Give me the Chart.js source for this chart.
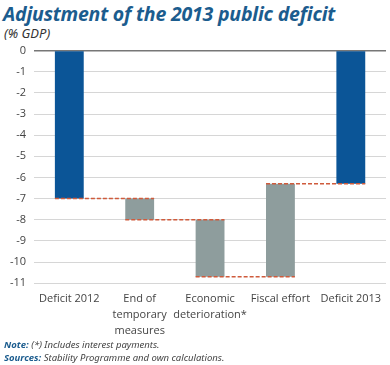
<!DOCTYPE html>
<html>
<head>
<meta charset="utf-8">
<script src="https://cdn.jsdelivr.net/npm/chart.js@4"></script>
<style>
    body { margin: 0; background: #fff; width: 390px; height: 365px; position: relative; overflow: hidden; }
    .title { position: absolute; left: 3px; top: 0px; font-family: 'Noto Sans', sans-serif; font-weight: bold; font-style: italic; font-size: 19.5px; color: #1b5c8e; letter-spacing: -0.2px; }
    .sub { position: absolute; left: 4px; top: 24px; font-family: 'Noto Sans', sans-serif; font-style: italic; font-size: 13px; color: #333; }
    .note { position: absolute; left: 4px; font-family: 'Noto Sans', sans-serif; font-style: italic; font-size: 9.5px; color: #444; }
    .note b { color: #1b5c8e; }
    #wrap { position: absolute; left: 0; top: 36px; width: 390px; height: 303px; }
</style>
</head>
<body>
<div class="title">Adjustment of the 2013 public deficit</div>
<div class="sub">(% GDP)</div>
<div id="wrap"><canvas id="deficitChart"></canvas></div>
<div class="note" style="top:338px"><b>Note:</b> (*) Includes interest payments.</div>
<div class="note" style="top:351px"><b>Sources:</b> Stability Programme and own calculations.</div>
<script>
// chart data
const categories = [['Deficit 2012'], ['End of', 'temporary', 'measures'], ['Economic', 'deterioration*'], ['Fiscal effort'], ['Deficit 2013']];
const barStart = [0, -7, -8, -10.7, 0];
const barEnd = [-7, -8, -10.7, -6.3, -6.3];
const connectorLevels = [-7, -8, -10.7, -6.3];
const barColors = ['#0b5597', '#8e9d9d', '#8e9d9d', '#8e9d9d', '#0b5597'];

// dashed connectors between bars
const connectorPlugin = {
    id: 'connectors',
    afterDatasetsDraw: function (chart) {
        var ctx = chart.ctx;
        var bars = chart.getDatasetMeta(0).data;
        var y = chart.scales.y;
        ctx.save();
        ctx.strokeStyle = '#cf5b3c';
        ctx.lineWidth = 1.5;
        ctx.setLineDash([4, 2]);
        for (var i = 0; i < connectorLevels.length; i++) {
            var left = bars[i].x - bars[i].width / 2;
            var right = bars[i + 1].x + bars[i + 1].width / 2;
            var py = y.getPixelForValue(connectorLevels[i]);
            ctx.beginPath();
            ctx.moveTo(left, py);
            ctx.lineTo(right, py);
            ctx.stroke();
        }
        ctx.restore();
    }
};

var ctx = document.getElementById('deficitChart').getContext('2d');
new Chart(ctx, {
    type: 'bar',
    data: {
        labels: categories,
        datasets: [{
            data: barStart.map(function (s, i) { return [s, barEnd[i]]; }),
            backgroundColor: barColors,
            borderWidth: 0,
            borderSkipped: false,
            barPercentage: 0.41,
            categoryPercentage: 1
        }]
    },
    plugins: [connectorPlugin],
    options: {
        responsive: true,
        maintainAspectRatio: false,
        animation: false,
        layout: { padding: { left: 2, right: 4, top: 4, bottom: 0 } },
        plugins: {
            legend: { display: false },
            tooltip: { enabled: false }
        },
        scales: {
            x: {
                grid: { display: false },
                border: { display: false },
                ticks: {
                    color: '#444',
                    font: { family: "'Open Sans', sans-serif", size: 11, lineHeight: 1.45 },
                    maxRotation: 0,
                    autoSkip: false,
                    padding: 0
                }
            },
            y: {
                min: -11,
                max: 0,
                border: { display: false },
                grid: {
                    color: function (c) { return c.tick.value === 0 ? '#777' : '#d6d6d6'; },
                    lineWidth: function (c) { return c.tick.value === 0 ? 1.5 : 1; },
                    drawTicks: false
                },
                ticks: {
                    stepSize: 1,
                    color: '#444',
                    font: { family: "'Open Sans', sans-serif", size: 11 },
                    padding: 8
                }
            }
        }
    }
});
</script>
</body>
</html>
